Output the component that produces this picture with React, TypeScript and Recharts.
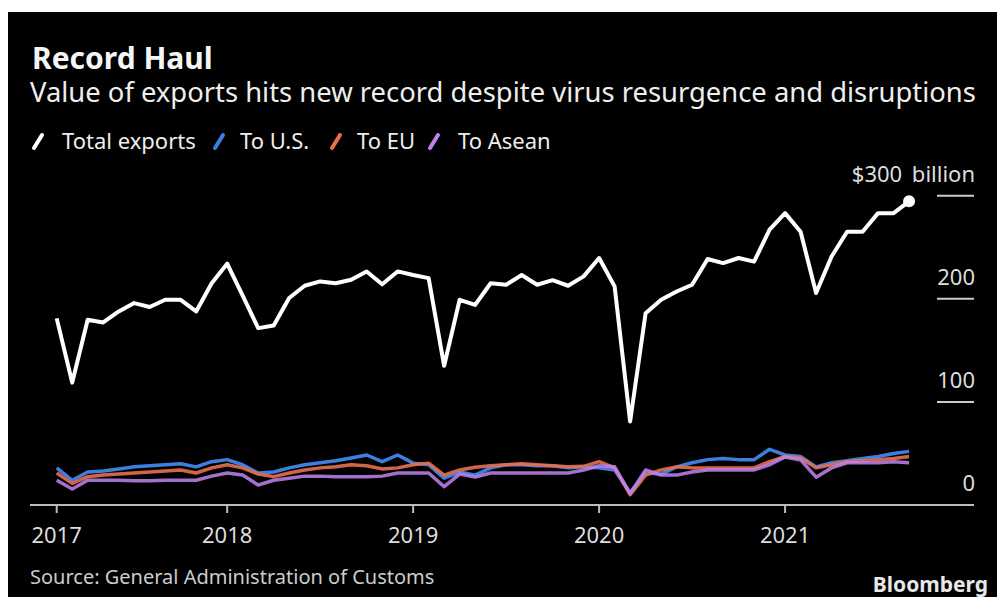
import React from 'react';
import { LineChart, Line, XAxis, YAxis } from 'recharts';

const months: string[] = [];
['2017', '2018', '2019', '2020', '2021'].forEach((y) => {
  ['01', '02', '03', '04', '05', '06', '07', '08', '09', '10', '11', '12'].forEach((m) => {
    if (y === '2021' && Number(m) > 8) return;
    months.push(`${y}-${m}`);
  });
});

const totalExports = [
  181, 118.7, 179.6, 177, 187.7, 195.8, 192, 199, 199, 187.7, 215, 234,
  203, 171.5, 174, 200.7, 212.6, 216.8, 215, 218.4, 226.5, 214, 226.5, 223,
  220, 135, 199, 194, 215, 213.6, 223, 213.6, 218, 212.6, 221.7, 239.5,
  212, 81, 186, 199, 207, 213.6, 238.5, 234.6, 239.5, 236, 267, 283,
  265, 205.5, 241, 265, 265, 283, 283, 294.5,
];
const toUS = [
  36, 24, 32, 33, 35, 37, 38, 39, 40, 37, 42, 44,
  39, 31, 32, 36, 39, 41, 43, 45.6, 48.5, 42, 48.5, 40.6,
  39, 26, 32, 29, 36, 39, 39, 38, 38, 36, 37, 36,
  34, 12, 31, 30, 37, 41, 44, 45, 44, 44, 54, 48.5,
  47, 37, 41, 43, 45, 47, 50, 52,
];
const toEU = [
  31, 21, 27.5, 29, 30, 31, 32, 33, 34, 31, 36, 39,
  36, 30, 27.5, 31, 34, 36, 37, 39, 38, 35, 36, 39,
  40.6, 29, 34, 36.6, 38, 39, 40, 39, 38, 37, 37.5, 42,
  36, 10, 29, 34, 37, 36, 36, 36, 36, 36, 42, 47,
  45.6, 36, 39, 42, 43, 44, 45, 47,
];
const toAsean = [
  24, 15.5, 24, 24, 24, 23.5, 23.5, 24, 24, 24, 28, 31,
  29, 19.4, 24, 26, 28, 28, 27.5, 27.5, 27.5, 28, 31, 31,
  31, 17.8, 30, 27, 31, 31, 31, 31, 31, 31, 34, 38,
  37, 11, 34, 29, 29, 32, 34, 34, 34, 34, 39, 46.6,
  43.7, 27, 36, 41, 41, 41, 42, 41,
];

const xTicks = [0, 11, 23, 35, 47];
const xTickLabels = ['2017', '2018', '2019', '2020', '2021'];
const yTicks = [0, 100, 200, 300];
const yTickLabels = ['0', '100', '200', '$300 billion'];

const seriesNames = ['Total exports', 'To U.S.', 'To EU', 'To Asean'];
const seriesColors = ['#ffffff', '#3d7fe0', '#e8704f', '#c084f0'];

const data = months.map((m, i) => ({
  i,
  month: m,
  total: totalExports[i],
  us: toUS[i],
  eu: toEU[i],
  asean: toAsean[i],
}));

const FONT = "'Noto Sans', sans-serif";
const W = 989;
const H = 585;

const XTick = (props: any) => {
  const { x, y, payload } = props;
  const idx = xTicks.indexOf(payload.value);
  return (
    <text x={x} y={y} dy={30} textAnchor="middle" fill="#dddddd" fontSize={22} fontFamily={FONT}>
      {xTickLabels[idx]}
    </text>
  );
};

const YTick = (props: any) => {
  const { x, y, payload } = props;
  const idx = yTicks.indexOf(payload.value);
  return (
    <g>
      {payload.value > 0 && (
        <line x1={x - 37} x2={x} y1={y} y2={y} stroke="#cccccc" strokeWidth={2} />
      )}
      <text
        x={x + 1}
        y={y - 14}
        textAnchor="end"
        fill="#dddddd"
        fontSize={22}
        wordSpacing={4}
        fontFamily={FONT}
      >
        {yTickLabels[idx]}
      </text>
    </g>
  );
};

const lastIndex = totalExports.length - 1;
const EndDot = (props: any) => {
  const { cx, cy, index } = props;
  if (index !== lastIndex) return <g key={`d${index}`} />;
  return <circle key={`d${index}`} cx={cx} cy={cy} r={6} fill="#ffffff" />;
};

const legendIcons = [24, 205, 322, 420];
const legendTexts = [54, 232, 349, 450];

export default function App() {
  return (
    <div
      style={{
        position: 'fixed',
        left: 8,
        top: 12,
        width: W,
        height: H,
        background: '#000',
        overflow: 'hidden',
      }}
    >
      <LineChart
        width={W}
        height={H}
        data={data}
        margin={{ top: 163, right: 22, bottom: 52, left: 22 }}
      >
        <XAxis
          dataKey="i"
          type="number"
          domain={[-1.723, 59.19]}
          allowDataOverflow
          ticks={xTicks}
          interval={0}
          height={40}
          axisLine={{ stroke: '#bbbbbb', strokeWidth: 2 }}
          tickLine={{ stroke: '#bbbbbb', strokeWidth: 2 }}
          tickSize={8}
          tickMargin={0}
          tick={<XTick />}
        />
        <YAxis
          orientation="right"
          type="number"
          domain={[0, 320]}
          ticks={yTicks}
          interval={0}
          width={1}
          axisLine={false}
          tickLine={false}
          tickSize={0}
          tickMargin={0}
          tick={<YTick />}
        />
        <Line dataKey="us" stroke={seriesColors[1]} strokeWidth={3.5} dot={false} isAnimationActive={false} strokeLinejoin="round" />
        <Line dataKey="eu" stroke={seriesColors[2]} strokeWidth={3.5} dot={false} isAnimationActive={false} strokeLinejoin="round" strokeOpacity={0.9} />
        <Line dataKey="asean" stroke={seriesColors[3]} strokeWidth={3.5} dot={false} isAnimationActive={false} strokeLinejoin="round" strokeOpacity={0.85} />
        <Line dataKey="total" stroke={seriesColors[0]} strokeWidth={4} dot={<EndDot />} activeDot={false} isAnimationActive={false} strokeLinejoin="round" />
      </LineChart>
      <div
        style={{
          position: 'absolute',
          left: 24,
          top: 31.4,
          fontFamily: FONT,
          fontSize: 30,
          lineHeight: '30px',
          fontWeight: 700,
          color: '#f5f5f5',
          whiteSpace: 'nowrap',
        }}
      >
        Record Haul
      </div>
      <div
        style={{
          position: 'absolute',
          left: 22,
          top: 65.7,
          fontFamily: FONT,
          fontSize: 27.4,
          lineHeight: '27.4px',
          color: '#eeeeee',
          whiteSpace: 'nowrap',
        }}
      >
        Value of exports hits new record despite virus resurgence and disruptions
      </div>
      <svg
        width={W}
        height={H}
        style={{ position: 'absolute', left: 0, top: 0, pointerEvents: 'none' }}
      >
        {seriesNames.map((name, k) => (
          <g key={name}>
            <line
              x1={legendIcons[k] + 2}
              y1={136}
              x2={legendIcons[k] + 10}
              y2={123}
              stroke={seriesColors[k]}
              strokeWidth={4}
              strokeLinecap="round"
            />
            <text x={legendTexts[k]} y={137} fill="#eeeeee" fontSize={22} fontFamily={FONT}>
              {name}
            </text>
          </g>
        ))}
        <text x={22} y={572} fill="#cccccc" fontSize={20} fontFamily={FONT}>
          Source: General Administration of Customs
        </text>
        <text x={980} y={580} textAnchor="end" fill="#e8e8e8" fontSize={21} fontWeight={700} fontFamily={FONT}>
          Bloomberg
        </text>
      </svg>
    </div>
  );
}
